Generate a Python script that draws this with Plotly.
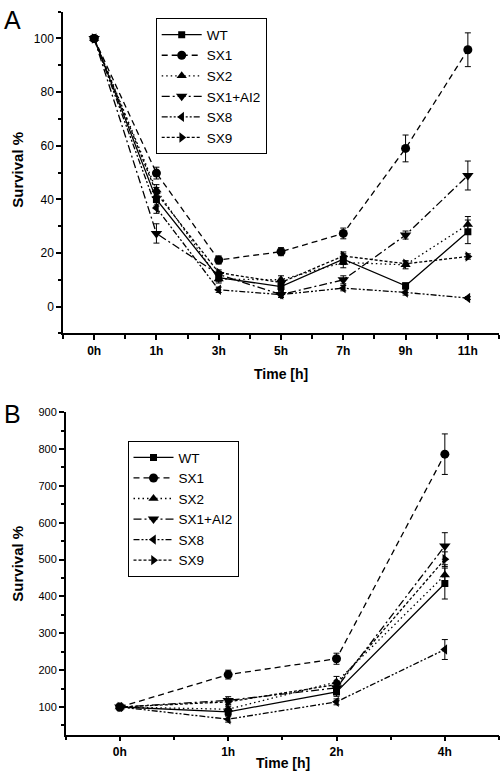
import plotly.graph_objects as go

# ---------------- data ----------------
series_names = ["WT", "SX1", "SX2", "SX1+AI2", "SX8", "SX9"]

cats_a = ["0h", "1h", "3h", "5h", "7h", "9h", "11h"]
wt_a = [100, 40.0, 10.8, 7.5, 17.7, 7.8, 27.9]
sx1_a = [100, 49.8, 17.4, 20.5, 27.3, 59.0, 95.8]
sx2_a = [100, 43.5, 10.3, 10.0, 16.5, 15.6, 30.6]
sx1ai2_a = [100, 27.3, 12.0, 4.5, 10.0, 26.7, 48.9]
sx8_a = [100, 36.8, 6.3, 4.5, 6.9, 5.3, 3.2]
sx9_a = [100, 42.4, 12.7, 9.0, 18.9, 16.0, 18.7]

wt_a_err = [0, 2.5, 1.5, 1.5, 2.0, 1.0, 4.4]
sx1_a_err = [0, 2.2, 1.5, 1.5, 2.0, 5.0, 6.3]
sx2_a_err = [0, 2.0, 1.5, 1.5, 2.0, 1.5, 3.0]
sx1ai2_a_err = [0, 3.6, 1.0, 1.0, 1.5, 1.5, 5.4]
sx8_a_err = [0, 2.0, 1.0, 1.0, 1.0, 1.0, 0.5]
sx9_a_err = [0, 2.0, 1.0, 1.0, 1.5, 1.0, 1.0]

cats_b = ["0h", "1h", "2h", "4h"]
wt_b = [100, 87, 141, 435]
sx1_b = [100, 188, 231, 786]
sx2_b = [100, 94, 168, 458]
sx1ai2_b = [100, 118, 152, 537]
sx8_b = [100, 67, 114, 256]
sx9_b = [100, 114, 161, 501]

wt_b_err = [0, 10, 12, 42]
sx1_b_err = [0, 12, 15, 55]
sx2_b_err = [0, 8, 15, 28]
sx1ai2_b_err = [0, 10, 10, 36]
sx8_b_err = [0, 8, 8, 27]
sx9_b_err = [0, 8, 10, 20]

# ---------------- styles ----------------
dashes = ["solid", "6px,4px", "1.5px,3px", "8px,3px,2px,3px",
          "6px,2px,2px,2px,2px,2px", "3px,2px"]
symbols = ["square", "circle", "triangle-up", "triangle-down",
           "triangle-left", "triangle-right"]
msizes = [7, 9, 9, 10, 9, 9]

FONT = "Liberation Sans, Arial, sans-serif"

data_a = [wt_a, sx1_a, sx2_a, sx1ai2_a, sx8_a, sx9_a]
err_a = [wt_a_err, sx1_a_err, sx2_a_err, sx1ai2_a_err, sx8_a_err, sx9_a_err]
data_b = [wt_b, sx1_b, sx2_b, sx1ai2_b, sx8_b, sx9_b]
err_b = [wt_b_err, sx1_b_err, sx2_b_err, sx1ai2_b_err, sx8_b_err, sx9_b_err]

fig = go.Figure()

xa = list(range(len(cats_a)))
xb = list(range(len(cats_b)))

for i, name in enumerate(series_names):
    fig.add_trace(go.Scatter(
        x=xa, y=data_a[i], name=name, mode="lines+markers",
        line=dict(color="black", width=1.3, dash=dashes[i]),
        marker=dict(symbol=symbols[i], size=msizes[i], color="black"),
        error_y=dict(type="data", array=err_a[i], color="black",
                     thickness=1, width=3),
        xaxis="x", yaxis="y", legend="legend"))

for i, name in enumerate(series_names):
    fig.add_trace(go.Scatter(
        x=xb, y=data_b[i], name=name, mode="lines+markers",
        line=dict(color="black", width=1.3, dash=dashes[i]),
        marker=dict(symbol=symbols[i], size=msizes[i], color="black"),
        error_y=dict(type="data", array=err_b[i], color="black",
                     thickness=1, width=3),
        xaxis="x2", yaxis="y2", legend="legend2"))

W, H = 500, 782


def px_x(p):
    return p / W


def px_y(p):
    return 1 - p / H


axis_common = dict(showline=True, linecolor="black", linewidth=1.5,
                   ticks="outside", ticklen=5, tickwidth=1.5,
                   tickcolor="black", showgrid=False, zeroline=False,
                   mirror=False)

fig.update_layout(
    width=W, height=H,
    margin=dict(l=0, r=0, t=0, b=0),
    paper_bgcolor="white", plot_bgcolor="white",
    font=dict(family=FONT, color="black", size=12),
    xaxis=dict(domain=[px_x(63), px_x(499)], anchor="y",
               range=[-0.5, len(cats_a) - 0.5],
               tickvals=xa, ticktext=cats_a,
               tickfont=dict(size=12, family=FONT, weight="bold"),
               minor=dict(ticks="outside", dtick=0.5, tick0=0, ticklen=4,
                          tickwidth=1.5, tickcolor="black"),
               **axis_common),
    yaxis=dict(domain=[px_y(330), px_y(5.7)], anchor="x",
               range=[-10, 110], dtick=20, tick0=0,
               tickfont=dict(size=12, family=FONT),
               minor=dict(ticks="outside", dtick=10, tick0=0, ticklen=3,
                          tickwidth=1.5, tickcolor="black"),
               **axis_common),
    xaxis2=dict(domain=[px_x(65.7), px_x(499)], anchor="y2",
                range=[-0.5, len(cats_b) - 0.5],
                tickvals=xb, ticktext=cats_b,
                tickfont=dict(size=12, family=FONT, weight="bold"),
                minor=dict(ticks="outside", dtick=0.5, tick0=0, ticklen=4,
                           tickwidth=1.5, tickcolor="black"),
                **axis_common),
    yaxis2=dict(domain=[px_y(734.3), px_y(409.3)], anchor="x2",
                range=[25, 900], dtick=100, tick0=0,
                tickfont=dict(size=11, family=FONT),
                minor=dict(ticks="outside", dtick=50, tick0=0, ticklen=3,
                           tickwidth=1.5, tickcolor="black"),
                **axis_common),
    legend=dict(x=px_x(155.7), y=px_y(12.5), xanchor="left", yanchor="top",
                bgcolor="white", bordercolor="black", borderwidth=1,
                font=dict(size=13.5, family=FONT), itemwidth=40,
                tracegroupgap=0),
    legend2=dict(x=px_x(127.5), y=px_y(438.5), xanchor="left", yanchor="top",
                 bgcolor="white", bordercolor="black", borderwidth=1,
                 font=dict(size=13.5, family=FONT), itemwidth=40,
                 tracegroupgap=0),
)

annots = [
    dict(text="A", x=px_x(2), y=px_y(14), xanchor="left", yanchor="middle",
         font=dict(size=25)),
    dict(text="B", x=px_x(2), y=px_y(411), xanchor="left", yanchor="middle",
         font=dict(size=25)),
    dict(text="<b>Survival %</b>", x=px_x(18), y=px_y(165), textangle=-90,
         xanchor="center", yanchor="middle", font=dict(size=15)),
    dict(text="<b>Survival %</b>", x=px_x(18), y=px_y(562), textangle=-90,
         xanchor="center", yanchor="middle", font=dict(size=15)),
    dict(text="<b>Time [h]</b>", x=px_x(281), y=px_y(371), xanchor="center",
         yanchor="middle", font=dict(size=14)),
    dict(text="<b>Time [h]</b>", x=px_x(283), y=px_y(763), xanchor="center",
         yanchor="middle", font=dict(size=14)),
]
for a in annots:
    a.update(xref="paper", yref="paper", showarrow=False)
    a["font"]["family"] = FONT
    a["font"]["color"] = "black"
fig.update_layout(annotations=annots)

fig.write_html("out.html",
               config={"displayModeBar": False},
               post_script="document.body.style.margin='0';"
                           "document.body.style.overflow='hidden';")
